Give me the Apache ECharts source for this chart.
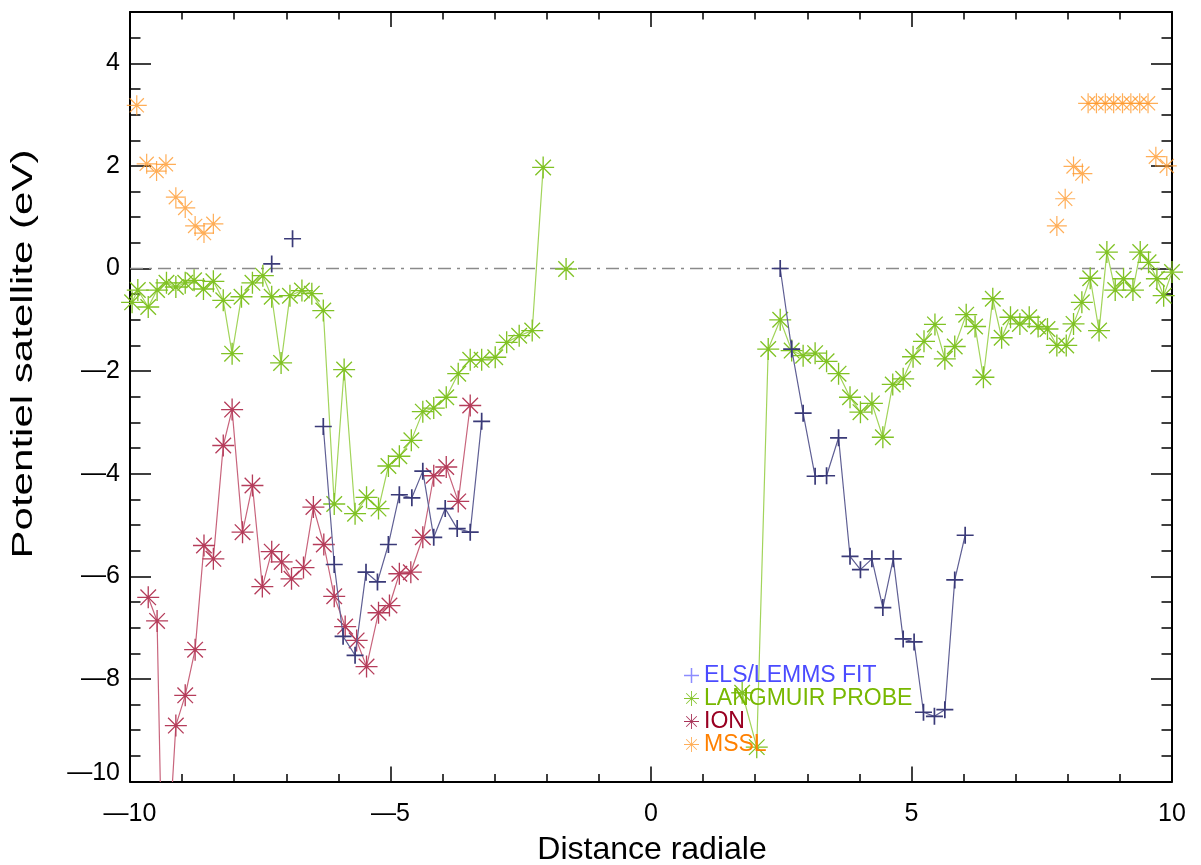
<!DOCTYPE html>
<html><head><meta charset="utf-8">
<script src="https://cdn.jsdelivr.net/npm/echarts@6/dist/echarts.min.js"></script>
<style>html,body{margin:0;padding:0;background:#fff}#c{width:1201px;height:865px}</style>
</head><body><div id="c"></div>
<script>
// ---------------- data (null = gap in the line) ----------------
const elsX = [-7.28, null, -6.88, null, -6.29, -6.08, -5.91, -5.68, -5.47, -5.25, -5.04, -4.83, -4.59, -4.38, -4.17, -3.95, -3.72, -3.47, -3.25, null,
  2.48, 2.70, 2.92, 3.15, 3.37, 3.60, 3.82, 4.02, 4.24, 4.45, 4.65, 4.84, 5.05, 5.23, 5.44, 5.64, 5.83, 6.03];
const elsY = [0.09, null, 0.58, null, -3.08, -5.77, -7.17, -7.54, -5.92, -6.11, -5.38, -4.41, -4.47, -3.95, -5.24, -4.68, -5.07, -5.14, -2.98, null,
  0.00, -1.57, -2.82, -4.05, -4.04, -3.30, -5.61, -5.87, -5.66, -6.61, -5.66, -7.22, -7.28, -8.65, -8.73, -8.60, -6.07, -5.20];

const lpX = [-9.96, -9.85, -9.65, -9.48, -9.30, -9.12, -8.94, -8.77, -8.59, -8.40, -8.21, -8.04, -7.86, -7.65, -7.45, -7.28, -7.10, -6.93, -6.70, -6.51, -6.29,
  -6.08, -5.89, -5.68, -5.46, -5.23, -5.04, -4.83, -4.60, -4.38, -4.17, -3.93, -3.70, -3.47, -3.25, -2.99, -2.77, -2.53, -2.28, -2.07, null, -1.63, null,
  1.75, 2.03, 2.25, 2.48, 2.70, 2.92, 3.15, 3.37, 3.60, 3.82, 4.02, 4.24, 4.45, 4.64, 4.84, 5.03, 5.24, 5.45, 5.64, 5.83, 6.05, 6.22, 6.38, 6.56, 6.73,
  6.90, 7.08, 7.26, 7.43, 7.61, 7.79, 7.97, 8.11, 8.27, 8.43, 8.60, 8.75, 8.91, 9.07, 9.25, 9.39, 9.55, 9.71, 9.84, 10.0];
const lpY = [-0.66, -0.42, -0.75, -0.42, -0.28, -0.36, -0.28, -0.23, -0.40, -0.25, -0.62, -1.66, -0.55, -0.28, -0.14, -0.55, -1.84, -0.53, -0.43, -0.49, -0.82,
  -4.59, -1.97, -4.78, -4.46, -4.68, -3.85, -3.66, -3.35, -2.79, -2.72, -2.51, -2.05, -1.78, -1.78, -1.73, -1.44, -1.31, -1.21, 1.97, null, -0.01, null,
  -8.27, -9.33, -1.57, -1.00, -1.60, -1.70, -1.65, -1.81, -2.05, -2.51, -2.80, -2.63, -3.29, -2.26, -2.15, -1.72, -1.42, -1.09, -1.76, -1.52, -0.90, -1.13, -2.12, -0.59, -1.35,
  -0.95, -1.08, -0.95, -1.13, -1.18, -1.50, -1.50, -1.08, -0.66, -0.19, -1.21, 0.32, -0.42, -0.20, -0.42, 0.32, 0.12, -0.20, -0.53, -0.07];

const ionX = [-9.65, -9.48, -9.36, -9.12, -8.94, -8.75, -8.58, -8.40, -8.21, -8.04, -7.84, -7.65, -7.46, -7.28, -7.09, -6.90, -6.67, -6.48, -6.28,
  -6.08, -5.87, -5.65, -5.46, -5.23, -5.02, -4.83, -4.61, -4.38, -4.17, -3.93, -3.70, -3.47];
const ionY = [-6.41, -6.87, -13.0, -8.91, -8.32, -7.43, -5.40, -5.66, -3.45, -2.75, -5.14, -4.23, -6.20, -5.52, -5.72, -6.05, -5.83, -4.65, -5.38,
  -6.39, -6.98, -7.25, -7.76, -6.71, -6.57, -5.95, -5.92, -5.24, -4.04, -3.87, -4.54, -2.67];

const msslX = [-9.87, -9.68, -9.49, -9.31, -9.12, -8.94, -8.75, -8.58, -8.40,
  7.79, 7.95, 8.11, 8.28, 8.39, 8.55, 8.72, 8.88, 9.05, 9.21, 9.38, 9.54, 9.69, 9.90];
const msslY = [3.18, 2.04, 1.90, 2.03, 1.39, 1.18, 0.83, 0.69, 0.87,
  0.83, 1.36, 1.99, 1.85, 3.22, 3.22, 3.22, 3.22, 3.22, 3.22, 3.22, 3.22, 2.18, 2.00];

const seriesNames = ['ELS/LEMMS FIT', 'LANGMUIR PROBE', 'ION', 'MSSL'];
const xTickValues = [-10, -5, 0, 5, 10];
const yTickValues = [-10, -8, -6, -4, -2, 0, 2, 4];
const xTitle = 'Distance radiale';
const yTitle = 'Potentiel satellite (eV)';

// ---------------- helpers ----------------
const zip = (xs, ys) => xs.map((x, i) => [x, ys[i]]);
function fmtTick(v) { return v < 0 ? '\u2014' + Math.abs(v) : String(v); }

function bar(angleDeg, half, w) {
  const a = angleDeg * Math.PI / 180, c = 10;
  const dx = Math.cos(a), dy = Math.sin(a), nx = -dy, ny = dx;
  const p = [
    [c + half * dx + w / 2 * nx, c + half * dy + w / 2 * ny],
    [c + half * dx - w / 2 * nx, c + half * dy - w / 2 * ny],
    [c - half * dx - w / 2 * nx, c - half * dy - w / 2 * ny],
    [c - half * dx + w / 2 * nx, c - half * dy + w / 2 * ny]];
  return 'M' + p.map(q => q[0].toFixed(3) + ',' + q[1].toFixed(3)).join('L') + 'Z';
}
const plusPath = 'path://' + bar(0, 10, 2.0) + bar(90, 10, 2.0);
const starPath = 'path://' + bar(0, 10, 1.2) + bar(90, 10, 1.2) + bar(45, 10, 1.2) + bar(135, 10, 1.2);

const C = {
  els: '#3a3a78', elsLine: '#5f5f94',
  lp: '#80c224', lpLine: '#a2d45a',
  ion: '#b53c5a', ionLine: '#c8647c',
  mssl: '#ff9a2e'
};

const FONT = 'Liberation Sans, Arial, sans-serif';
const chart = echarts.init(document.getElementById('c'), null, { renderer: 'canvas' });

const grid = { left: 130, right: 29, top: 12, bottom: 83.5, containLabel: false };
const axisLine = { show: true, onZero: false, lineStyle: { color: '#000', width: 2 } };

const xBase = {
  type: 'value', min: -10, max: 10, interval: 5, splitLine: { show: false }, axisLine,
  axisTick: { show: true, inside: true, length: 15, lineStyle: { color: '#000', width: 1.5 } },
  minorTick: { show: true, splitNumber: 5, length: 7.5, lineStyle: { color: '#000', width: 1.5 } }
};
const yMajor = {
  type: 'value', min: -10, max: 5, interval: 2, splitLine: { show: false }, axisLine,
  axisTick: { show: true, inside: true, length: 21, lineStyle: { color: '#000', width: 1.5 } }
};
const yMinor = {
  type: 'value', min: -10, max: 5, interval: 0.5, splitLine: { show: false },
  axisLine: { show: false, onZero: false },
  axisTick: { show: true, inside: true, length: 10.5, lineStyle: { color: '#000', width: 1.5 } },
  axisLabel: { show: false }
};

const option = {
  animation: false,
  backgroundColor: '#fff',
  grid,
  graphic: [
    {
      type: 'text', x: 24, y: 354, rotation: Math.PI / 2, scaleX: 1.45, silent: true,
      style: { text: yTitle, fontFamily: FONT, fontSize: 29, fill: '#000', align: 'center', verticalAlign: 'middle' }
    },
    {
      type: 'text', x: 652, y: 850, silent: true,
      style: { text: xTitle, fontFamily: FONT, fontSize: 32, fill: '#000', align: 'center', verticalAlign: 'middle' }
    }
  ],
  xAxis: [
    Object.assign({}, xBase, {
      position: 'bottom',
      axisLabel: {
        show: true, margin: 20, fontFamily: FONT, fontSize: 25, color: '#000',
        formatter: v => xTickValues.includes(v) ? fmtTick(v) : ''
      }
    }),
    Object.assign({}, xBase, { position: 'top', axisLabel: { show: false } })
  ],
  yAxis: [
    Object.assign({}, yMajor, {
      position: 'left',
      axisLabel: {
        show: true, margin: 10, fontFamily: FONT, fontSize: 25, color: '#000',
        showMaxLabel: false,
        formatter: v => yTickValues.includes(v) ? (v === -10 ? '{m|' + fmtTick(v) + '}' : fmtTick(v)) : '',
        rich: { m: { fontFamily: FONT, fontSize: 25, color: '#000', padding: [0, 0, 16, 0] } }
      }
    }),
    Object.assign({}, yMajor, { position: 'right', axisLabel: { show: false } }),
    Object.assign({}, yMinor, { position: 'left' }),
    Object.assign({}, yMinor, { position: 'right' })
  ],
  legend: {
    orient: 'vertical', left: 679, top: 659, itemWidth: 15, itemHeight: 15, itemGap: 0,
    selectedMode: false,
    textStyle: { fontFamily: FONT, fontSize: 23, lineHeight: 22.2 },
    data: [
      { name: seriesNames[0], icon: plusPath, itemStyle: { color: '#8c8cff' }, textStyle: { color: '#4b4bff' } },
      { name: seriesNames[1], icon: starPath, itemStyle: { color: '#86c530' }, textStyle: { color: '#78b800' } },
      { name: seriesNames[2], icon: starPath, itemStyle: { color: '#a83358' }, textStyle: { color: '#990022' } },
      { name: seriesNames[3], icon: starPath, itemStyle: { color: '#ff9a2e' }, textStyle: { color: '#ff8000' } }
    ]
  },
  series: [
    {
      name: 'zero', type: 'line', silent: true, symbol: 'none', z: 1,
      data: [[-10, 0], [10, 0]],
      lineStyle: { color: '#8a8a8a', width: 1.3, type: [13, 6, 3, 6] }
    },
    {
      name: seriesNames[1], type: 'line', data: zip(lpX, lpY), connectNulls: false,
      symbol: starPath, symbolSize: 22, z: 3,
      itemStyle: { color: C.lp }, lineStyle: { color: C.lpLine, width: 1.2 }
    },
    {
      name: seriesNames[2], type: 'line', data: zip(ionX, ionY), connectNulls: false,
      symbol: starPath, symbolSize: 22, z: 4,
      itemStyle: { color: C.ion }, lineStyle: { color: C.ionLine, width: 1.2 }
    },
    {
      name: seriesNames[0], type: 'line', data: zip(elsX, elsY), connectNulls: false,
      symbol: plusPath, symbolSize: 17, z: 5,
      itemStyle: { color: C.els }, lineStyle: { color: C.elsLine, width: 1.2 }
    },
    {
      name: seriesNames[3], type: 'scatter', data: zip(msslX, msslY),
      symbol: starPath, symbolSize: 20, z: 6,
      itemStyle: { color: C.mssl }
    }
  ]
};
chart.setOption(option);
</script>
</body></html>
